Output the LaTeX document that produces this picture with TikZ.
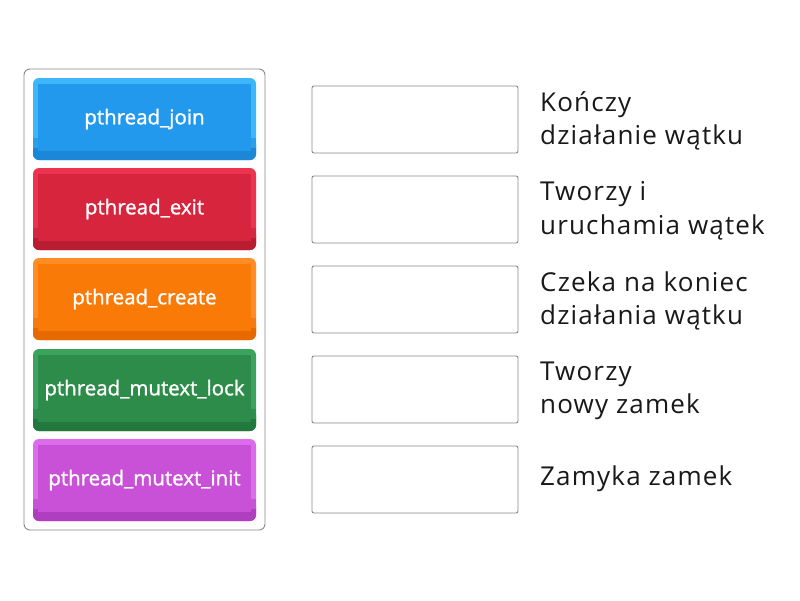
\documentclass[tikz,border=0pt]{standalone}
\usepackage{fontspec}
\setmainfont{Open Sans}
\newfontfamily\descfont[LetterSpace=4.5]{Open Sans}
\newfontfamily\tilefont[FakeBold=1.2]{Open Sans}
\definecolor{bL}{HTML}{3DB6FC}\definecolor{bF}{HTML}{2399EE}\definecolor{bD}{HTML}{1B87D6}
\definecolor{rL}{HTML}{EC3450}\definecolor{rF}{HTML}{D6253C}\definecolor{rD}{HTML}{BA1C31}
\definecolor{oL}{HTML}{FF8C24}\definecolor{oF}{HTML}{FA7A08}\definecolor{oD}{HTML}{E66A00}
\definecolor{gL}{HTML}{3AA35C}\definecolor{gF}{HTML}{2E8C4B}\definecolor{gD}{HTML}{23793D}
\definecolor{pL}{HTML}{DD6CEC}\definecolor{pF}{HTML}{C851D8}\definecolor{pD}{HTML}{AF3EC1}
\definecolor{frame}{HTML}{8A8A8A}
\newcommand\mytile[6]{%
  \fill[#3, rounded corners=6] (33,#2) rectangle (256,#2+82);
  \fill[#5, rounded corners=6] (33,#2+60) rectangle (256,#2+82);
  \fill[#3!50!#5] (33,#2+60) rectangle (256,#2+70);
  \fill[#5] (38,#2+70) -- (251,#2+70) -- (256,#2+76) -- (33,#2+76) -- cycle;
  \fill[#4] (38,#2+6) -- (251,#2+6) -- (251,#2+73) -- (38,#2+73) -- cycle;
  \node[tiletext] (#1) at (144.5,#2+41) {#6};
}
\begin{document}
\begin{tikzpicture}[x=1pt,y=-1pt,
  tiletext/.style={text=white, font=\tilefont\fontsize{20.5}{22}\selectfont, inner sep=0pt},
  slot/.style={draw=frame, line width=0.9pt, rounded corners=2, fill=white},
  desc/.style={anchor=west, align=left, font=\descfont\fontsize{26}{33.5}\selectfont, text=black!90, inner sep=0pt}]
\useasboundingbox (0,0) rectangle (800,600);
\fill[white] (0,0) rectangle (800,600);
\draw[frame, line width=0.9pt, rounded corners=6, fill=white] (24,69) rectangle (265,530);
\mytile{t1}{78}{bL}{bF}{bD}{pthread\_join}
\mytile{t2}{168}{rL}{rF}{rD}{pthread\_exit}
\mytile{t3}{258}{oL}{oF}{oD}{pthread\_create}
\mytile{t4}{349}{gL}{gF}{gD}{pthread\_mutext\_lock}
\mytile{t5}{439}{pL}{pF}{pD}{pthread\_mutext\_init}
\foreach \n/\y in {1/86,2/176,3/266,4/356,5/446}{
  \draw[slot] (312,\y) rectangle (518,\y+67);
  \coordinate (s\n) at (518,\y+33.5);
}
\node[desc] (d1) at (540,121) {Kończy\\działanie wątku};
\node[desc] (d2) at (540,211) {Tworzy i\\uruchamia wątek};
\node[desc] (d3) at (540,301) {Czeka na koniec\\działania wątku};
\node[desc] (d4) at (540,391) {Tworzy\\nowy zamek};
\node[desc] (d5) at (540,479) {Zamyka zamek};
\end{tikzpicture}
\end{document}
